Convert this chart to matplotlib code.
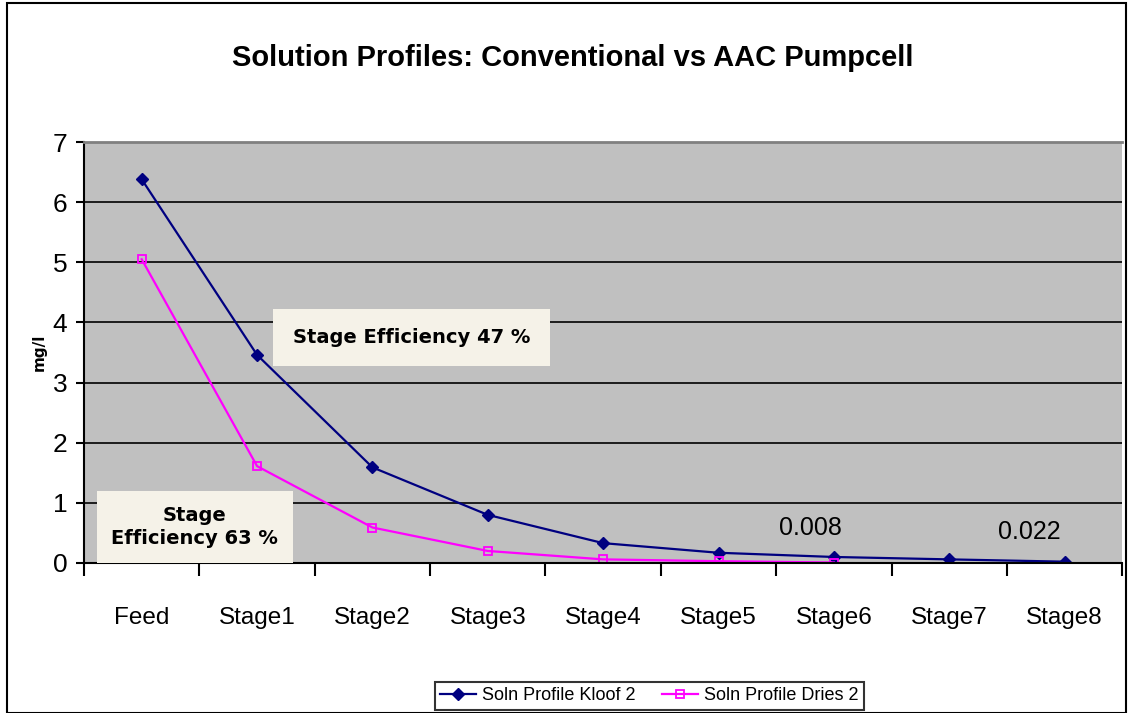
import matplotlib.pyplot as plt
from matplotlib.patches import Rectangle

# data
stages = ["Feed", "Stage1", "Stage2", "Stage3", "Stage4",
          "Stage5", "Stage6", "Stage7", "Stage8"]
kloof = [6.38, 3.46, 1.59, 0.80, 0.33, 0.17, 0.10, 0.06, 0.022]
dries = [5.05, 1.61, 0.59, 0.20, 0.06, 0.03, 0.008]
y_ticks = [0, 1, 2, 3, 4, 5, 6, 7]

narrow = "Liberation Sans"

fig = plt.figure(figsize=(11.31, 7.13), dpi=100)
fig.patches.append(Rectangle((0.006, 0.0), 0.99, 0.996, transform=fig.transFigure,
                             fill=False, edgecolor="black", linewidth=1.5))

ax = fig.add_axes([0.0743, 0.2104, 0.918, 0.5904])
ax.set_facecolor("#C0C0C0")

x = list(range(len(stages)))
ax.plot(x, kloof, color="#000080", marker="D", markersize=6, linewidth=1.6,
        label="Soln Profile Kloof 2")
ax.plot(x[:len(dries)], dries, color="#FF00FF", marker="s", markersize=6,
        markerfacecolor="none", markeredgewidth=1.3, linewidth=1.6,
        label="Soln Profile Dries 2")

ax.set_xlim(-0.5, len(stages) - 0.5)
ax.set_ylim(0, 7)
ax.set_yticks(y_ticks)
ax.set_xticks(x)
ax.set_xticklabels(stages, fontfamily=narrow, fontsize=17.5)
ax.set_xticks([i - 0.5 for i in range(len(stages) + 1)], minor=True)
ax.tick_params(axis="x", which="major", length=0, pad=32)
ax.tick_params(axis="x", which="minor", length=9, width=1.5, direction="out")
ax.tick_params(axis="y", length=6, width=1.5, direction="out", labelsize=19, pad=6)
for lab in ax.get_yticklabels():
    lab.set_fontfamily(narrow)

ax.grid(axis="y", color="black", linewidth=1.2)
ax.set_axisbelow(True)
ax.spines["left"].set_linewidth(1.5)
ax.spines["bottom"].set_linewidth(1.5)
ax.spines["right"].set_visible(False)
ax.spines["top"].set_color("#808080")
ax.spines["top"].set_linewidth(2)

ax.set_ylabel("mg/l", fontsize=11, fontweight="bold", fontfamily="DejaVu Sans", labelpad=4)

# data labels
ax.text(5.80, 0.58, "0.008", fontfamily=narrow, fontsize=18, ha="center", va="center")
ax.text(7.69, 0.52, "0.022", fontfamily=narrow, fontsize=18, ha="center", va="center")

ax.text(1.31, 3.75, "Stage Efficiency 47 %", fontsize=14, fontweight="bold",
        fontfamily="DejaVu Sans", ha="left", va="center",
        bbox=dict(boxstyle="square,pad=1.0", facecolor="#F5F2E8", edgecolor="none"))
ax.text(0.46, 0.60, "Stage\nEfficiency 63 %", fontsize=14, fontweight="bold",
        fontfamily="DejaVu Sans", ha="center", va="center", linespacing=1.3,
        bbox=dict(boxstyle="square,pad=0.75", facecolor="#F5F2E8", edgecolor="none"))

fig.text(0.506, 0.918, "Solution Profiles: Conventional vs AAC Pumpcell",
         fontfamily=narrow, fontsize=21, fontweight="bold", ha="center", va="center")

leg = fig.legend(loc="lower center", bbox_to_anchor=(0.574, -0.008), ncol=2,
                 frameon=True, fancybox=False, edgecolor="black",
                 prop={"family": narrow, "size": 13}, handlelength=2.0,
                 columnspacing=1.5, borderpad=0.3, handletextpad=0.3)
leg.get_frame().set_linewidth(1.5)

fig.savefig("out.png", dpi=100)
